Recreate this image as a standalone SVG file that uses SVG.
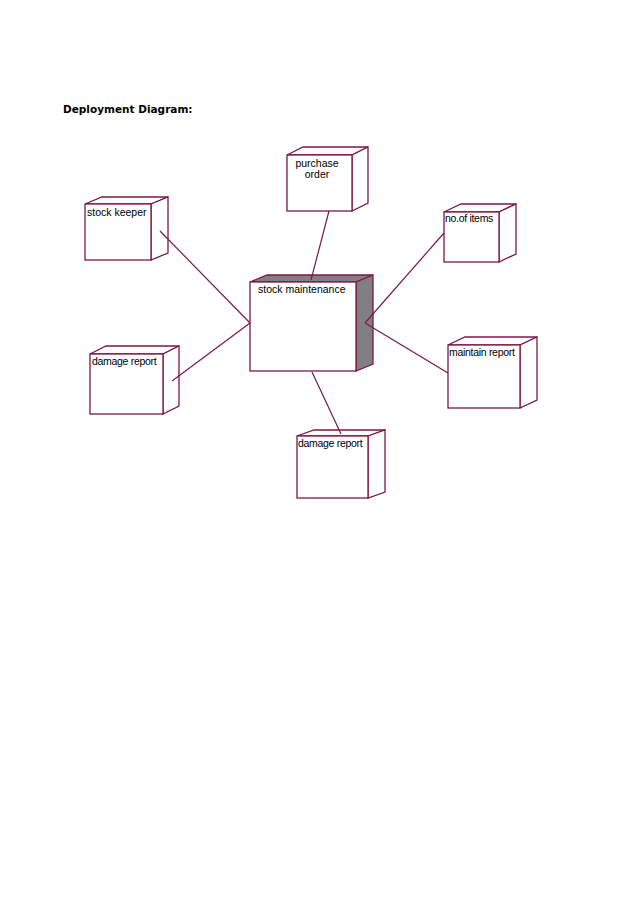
<svg xmlns="http://www.w3.org/2000/svg" width="638" height="903" viewBox="0 0 638 903">
<style>
.n{fill:#fff;stroke:#7a1848;stroke-width:1.3;stroke-linejoin:miter}
.g{fill:#808080;stroke:#7a1848;stroke-width:1.3}
.c{stroke:#7a1848;stroke-width:1.2;fill:none}
.t{font-family:"Liberation Sans",Arial,sans-serif;font-size:10.5px;fill:#000}
.h{font-family:"DejaVu Sans",Verdana,sans-serif;font-size:10.5px;font-weight:bold;fill:#000}
</style>
<rect width="638" height="903" fill="#fff"/>
<text class="h" x="63" y="113">Deployment Diagram:</text>
<g id="purchase-order">
<polygon class="n" points="287,155 303,147 368,147 352,155"/>
<polygon class="n" points="352,155 368,147 368,203 352,211"/>
<rect class="n" x="287" y="155" width="65" height="56"/>
<text class="t" x="317" y="167" text-anchor="middle">purchase</text>
<text class="t" x="317" y="178" text-anchor="middle">order</text>
</g>
<g id="stock-keeper">
<polygon class="n" points="85,204 102,197 168,197 151,204"/>
<polygon class="n" points="151,204 168,197 168,253 151,260"/>
<rect class="n" x="85" y="204" width="66" height="56"/>
<text class="t" x="87" y="216">stock keeper</text>
</g>
<g id="damage-report-left">
<polygon class="n" points="90,354 106,346 179,346 163,354"/>
<polygon class="n" points="163,354 179,346 179,406 163,414"/>
<rect class="n" x="90" y="354" width="73" height="60"/>
<text class="t" x="92" y="365" letter-spacing="-0.3">damage report</text>
</g>
<g id="no-of-items">
<polygon class="n" points="444,212 461,204 516,204 499,212"/>
<polygon class="n" points="499,212 516,204 516,254 499,262"/>
<rect class="n" x="444" y="212" width="55" height="50"/>
<text class="t" x="445" y="222" letter-spacing="-0.3">no.of items</text>
</g>
<g id="maintain-report">
<polygon class="n" points="448,345 465,337 537,337 520,345"/>
<polygon class="n" points="520,345 537,337 537,400 520,408"/>
<rect class="n" x="448" y="345" width="72" height="63"/>
<text class="t" x="449" y="356" letter-spacing="-0.3">maintain report</text>
</g>
<g id="damage-report-bottom">
<polygon class="n" points="297,436 314,430 385,430 368,436"/>
<polygon class="n" points="368,436 385,430 385,492 368,498"/>
<rect class="n" x="297" y="436" width="71" height="62"/>
<text class="t" x="298" y="447" letter-spacing="-0.3">damage report</text>
</g>
<g id="stock-maintenance">
<polygon class="g" points="250,282 267,275 373,275 356,282"/>
<polygon class="g" points="356,282 373,275 373,364 356,371"/>
<rect class="n" x="250" y="282" width="106" height="89"/>
<text class="t" x="258" y="293">stock maintenance</text>
</g>
<g id="connectors">
<line class="c" x1="329" y1="211" x2="311" y2="280"/>
<line class="c" x1="160" y1="231" x2="250" y2="323"/>
<line class="c" x1="172" y1="381" x2="250" y2="323"/>
<line class="c" x1="444" y1="233" x2="365" y2="323"/>
<line class="c" x1="448" y1="373" x2="365" y2="323"/>
<line class="c" x1="341" y1="434" x2="312" y2="372"/>
</g>
</svg>
